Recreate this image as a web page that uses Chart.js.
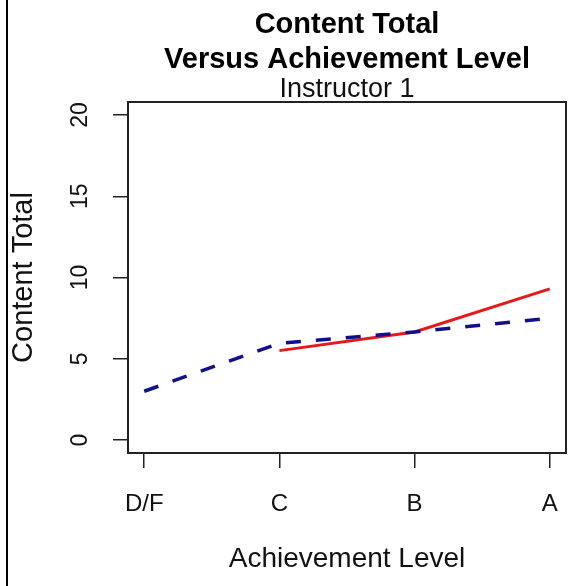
<!DOCTYPE html>
<html>
<head>
<meta charset="utf-8">
<script src="https://cdn.jsdelivr.net/npm/chart.js@4/dist/chart.umd.min.js"></script>
<style>
  html, body { margin: 0; padding: 0; background: #ffffff; }
  #wrap { width: 573px; height: 586px; }
</style>
</head>
<body>
<div id="wrap"><canvas id="chart" width="573" height="586"></canvas></div>
<script>
// Achievement levels along the x axis
const levels = ['D/F', 'C', 'B', 'A'];
// Mean content total per level (solid red series has no D/F value)
const solidSeries = [null, 5.5, 6.65, 9.3];
const dashedSeries = [3.0, 5.95, 6.65, 7.5];
// Tick values on the y axis
const yTicks = [0, 5, 10, 15, 20];
const yMin = 0, yMax = 20;

const FONT = "'Liberation Sans', Arial, Helvetica, sans-serif";
const INK = '#111111';

const toPoints = arr => arr.map((v, i) => ({ x: i + 1, y: v }));

// Frame around the plotting region plus the thin rule at the left page edge
const framePlugin = {
  id: 'frame',
  beforeDraw(chart) {
    const ctx = chart.ctx;
    ctx.save();
    ctx.fillStyle = '#ffffff';
    ctx.fillRect(0, 0, chart.width, chart.height);
    ctx.fillStyle = '#000000';
    ctx.fillRect(6, 0, 2, chart.height);
    ctx.restore();
  },
  afterDraw(chart) {
    const { left, right, top, bottom } = chart.chartArea;
    const ctx = chart.ctx;
    ctx.save();
    ctx.strokeStyle = '#222222';
    ctx.lineWidth = 2;
    ctx.strokeRect(left, top, right - left, bottom - top);
    ctx.restore();
  }
};

const pad = (yMax - yMin) * 0.04;
const xPad = (levels.length - 1) * 0.04;

new Chart(document.getElementById('chart'), {
  type: 'line',
  data: {
    datasets: [
      {
        label: 'solid',
        data: toPoints(solidSeries),
        borderColor: '#e41a1a',
        borderWidth: 3,
        pointRadius: 0,
        tension: 0,
        spanGaps: false,
        order: 2
      },
      {
        label: 'dashed',
        data: toPoints(dashedSeries),
        borderColor: '#10108c',
        borderWidth: 3.5,
        borderDash: [15, 15],
        borderCapStyle: 'butt',
        pointRadius: 0,
        tension: 0,
        order: 1
      }
    ]
  },
  options: {
    responsive: false,
    devicePixelRatio: 1,
    animation: false,
    layout: { padding: { left: 0, right: 0, top: 0, bottom: 0 } },
    plugins: {
      legend: { display: false },
      tooltip: { enabled: false },
      title: {
        display: true,
        text: ['Content Total', 'Versus Achievement Level'],
        color: '#000000',
        fullSize: false,
        font: { family: FONT, size: 29, weight: 'bold', lineHeight: '35px' },
        padding: { top: 7, bottom: 0 }
      },
      subtitle: {
        display: true,
        text: 'Instructor 1',
        color: INK,
        fullSize: false,
        font: { family: FONT, size: 27, weight: 'normal', lineHeight: '25px' },
        padding: { top: 0, bottom: 0 }
      }
    },
    scales: {
      x: {
        type: 'linear',
        min: 1 - xPad,
        max: levels.length + xPad,
        afterBuildTicks(scale) { scale.ticks = levels.map((_, i) => ({ value: i + 1 })); },
        afterFit(scale) {
          scale.height = 133;
          scale.paddingRight = 7;
        },
        ticks: {
          callback: v => levels[v - 1],
          color: INK,
          font: { family: FONT, size: 24 },
          padding: 21.6,
          maxRotation: 0,
          autoSkip: false
        },
        grid: { drawOnChartArea: false, drawTicks: true, tickLength: 15, color: '#222222', lineWidth: 1.5 },
        border: { display: true, color: '#222222', width: 2 },
        title: {
          display: true,
          text: 'Achievement Level',
          color: INK,
          font: { family: FONT, size: 28, lineHeight: 1.2 },
          padding: { top: 0, bottom: 10 }
        }
      },
      y: {
        type: 'linear',
        min: yMin - pad,
        max: yMax + pad,
        afterBuildTicks(scale) { scale.ticks = yTicks.map(v => ({ value: v })); },
        afterFit(scale) { scale.width = 128; },
        ticks: {
          color: INK,
          font: { family: FONT, size: 23 },
          minRotation: 90,
          maxRotation: 90,
          crossAlign: 'center',
          padding: 20,
          autoSkip: false
        },
        grid: { drawOnChartArea: false, drawTicks: true, tickLength: 15, color: '#222222', lineWidth: 1.5 },
        border: { display: true, color: '#222222', width: 2 },
        title: {
          display: true,
          text: 'Content Total',
          color: INK,
          font: { family: FONT, size: 29, lineHeight: 1.2 },
          padding: { top: 7, bottom: 0 }
        }
      }
    }
  },
  plugins: [framePlugin]
});
</script>
</body>
</html>
